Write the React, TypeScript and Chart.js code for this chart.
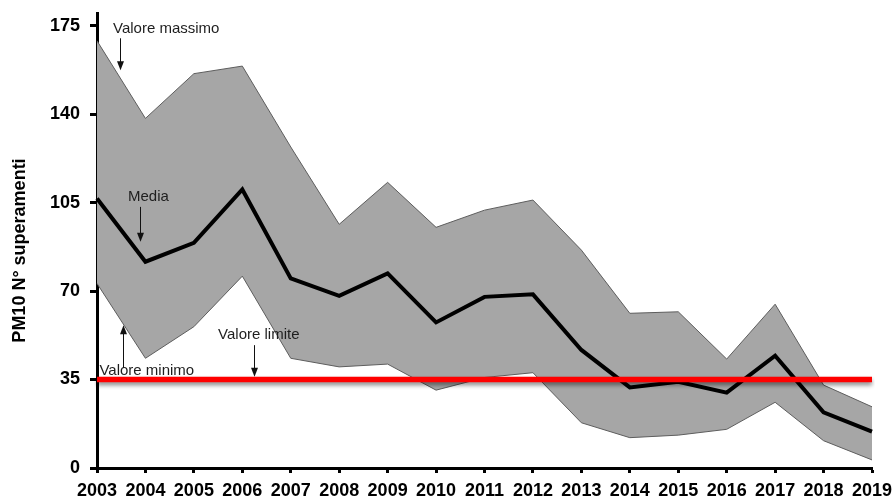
import React, { useEffect, useRef } from "react";
import { Chart, registerables } from "chart.js";

Chart.register(...registerables);

// Annual count of PM10 daily-limit exceedances across monitoring stations
const years = [
  "2003", "2004", "2005", "2006", "2007", "2008", "2009", "2010", "2011",
  "2012", "2013", "2014", "2015", "2016", "2017", "2018", "2019",
];
const maxValues = [169, 138.3, 156, 159, 127, 96.4, 113, 95.2, 102, 106, 86.2, 61.2, 61.8, 43.1, 64.8, 32.8, 24.2];
const meanValues = [106.6, 81.6, 89.1, 110.2, 75, 68.1, 77, 57.6, 67.7, 68.7, 46.7, 31.9, 34.1, 29.8, 44.4, 22, 14.4];
const minValues = [73, 43.4, 55.9, 75.9, 43.4, 40, 41.1, 30.8, 35.8, 37.7, 17.9, 12, 13, 15.3, 26, 10.8, 3.2];
const limitValue = 35;
const yTickValues = [0, 35, 70, 105, 140, 175];

const FONT = '"Liberation Sans", Arial, Helvetica, sans-serif';

// Callouts: label text anchored at (index, value), arrow drawn from y1 to y2 at arrowX
type Note = {
  text: string;
  tx: number;
  ty: number;
  arrowX: number;
  y1: number;
  y2: number;
};
const notes: Note[] = [
  { text: "Valore massimo", tx: 0.33, ty: 173.6, arrowX: 0.475, y1: 170, y2: 157.4 },
  { text: "Media", tx: 0.64, ty: 107.3, arrowX: 0.89, y1: 103.3, y2: 89.5 },
  { text: "Valore minimo", tx: 0.05, ty: 38.3, arrowX: 0.545, y1: 39.6, y2: 56.5 },
  { text: "Valore limite", tx: 2.5, ty: 52.6, arrowX: 3.245, y1: 48.6, y2: 36.1 },
];

const limitShadow = {
  id: "limitShadow",
  beforeDatasetDraw(chart: any, args: any) {
    if (args.index !== 3) return;
    const ctx = chart.ctx;
    ctx.save();
    ctx.shadowColor = "rgba(0,0,0,0.45)";
    ctx.shadowBlur = 4;
    ctx.shadowOffsetY = 3;
  },
  afterDatasetDraw(chart: any, args: any) {
    if (args.index !== 3) return;
    chart.ctx.restore();
  },
};

const callouts = {
  id: "callouts",
  afterDatasetsDraw(chart: any) {
    const { ctx, scales } = chart;
    const xs = scales.x;
    const ys = scales.y;
    ctx.save();
    ctx.font = `15px ${FONT}`;
    ctx.fillStyle = "#1e1e1e";
    ctx.textAlign = "left";
    ctx.textBaseline = "middle";
    for (const n of notes) {
      ctx.fillText(n.text, xs.getPixelForValue(n.tx), ys.getPixelForValue(n.ty));
      const ax = Math.round(xs.getPixelForValue(n.arrowX)) + 0.5;
      const a = ys.getPixelForValue(n.y1);
      const b = ys.getPixelForValue(n.y2);
      const dir = b > a ? 1 : -1;
      ctx.strokeStyle = "#111";
      ctx.lineWidth = 1;
      ctx.beginPath();
      ctx.moveTo(ax, a);
      ctx.lineTo(ax, b - dir * 8);
      ctx.stroke();
      ctx.fillStyle = "#111";
      ctx.beginPath();
      ctx.moveTo(ax, b);
      ctx.lineTo(ax - 3.5, b - dir * 9);
      ctx.lineTo(ax + 3.5, b - dir * 9);
      ctx.closePath();
      ctx.fill();
      ctx.fillStyle = "#1e1e1e";
    }
    ctx.restore();
  },
};

export default function App() {
  const canvasRef = useRef<HTMLCanvasElement | null>(null);

  useEffect(() => {
    const canvas = canvasRef.current;
    if (!canvas) return;
    const tickFont = { family: FONT, size: 18, weight: "bold" as const };

    const chart = new Chart(canvas, {
      type: "line",
      data: {
        labels: years,
        datasets: [
          {
            label: "Valore massimo",
            data: maxValues,
            borderColor: "#5e5e5e",
            borderWidth: 1,
            backgroundColor: "#a6a6a6",
            fill: "+1",
            pointRadius: 0,
            tension: 0,
            order: 3,
          },
          {
            label: "Valore minimo",
            data: minValues,
            borderColor: "#5e5e5e",
            borderWidth: 1,
            fill: false,
            pointRadius: 0,
            tension: 0,
            order: 2,
          },
          {
            label: "Media",
            data: meanValues,
            borderColor: "#000000",
            borderWidth: 4,
            fill: false,
            pointRadius: 0,
            tension: 0,
            order: 1,
          },
          {
            label: "Valore limite",
            data: years.map(() => limitValue),
            borderColor: "#ff0000",
            borderWidth: 5.5,
            fill: false,
            pointRadius: 0,
            tension: 0,
            order: 0,
          },
        ],
      },
      options: {
        responsive: false,
        animation: false,
        devicePixelRatio: 1,
        layout: { padding: { left: 0, right: 21, top: 13, bottom: 0 } },
        plugins: {
          legend: { display: false },
          tooltip: { enabled: false },
        },
        scales: {
          x: {
            type: "category",
            offset: false,
            grid: {
              drawOnChartArea: false,
              drawTicks: true,
              tickLength: 5,
              tickWidth: 3,
              tickColor: "#000",
            },
            border: { display: true, color: "#000", width: 3 },
            ticks: {
              color: "#000",
              font: tickFont,
              padding: 7,
              maxRotation: 0,
              autoSkip: false,
            },
            afterFit(scale: any) {
              scale.height = 29;
              scale.paddingLeft = 0;
              scale.paddingRight = 0;
            },
          },
          y: {
            min: 0,
            max: 180,
            afterBuildTicks(scale: any) {
              scale.ticks = yTickValues.map((v) => ({ value: v }));
            },
            grid: {
              drawOnChartArea: false,
              drawTicks: true,
              tickLength: 7,
              tickWidth: 3,
              tickColor: "#000",
            },
            border: { display: true, color: "#000", width: 3 },
            ticks: {
              color: "#000",
              font: tickFont,
              padding: 10,
            },
            title: {
              display: true,
              text: "PM10 N° superamenti    ",
              color: "#000",
              font: { family: FONT, size: 18, weight: "bold" },
              padding: { top: 9, bottom: 0 },
            },
            afterFit(scale: any) {
              scale.width = 97;
              scale.paddingTop = 0;
              scale.paddingBottom = 0;
            },
          },
        },
      },
      plugins: [limitShadow, callouts],
    });

    return () => chart.destroy();
  }, []);

  return (
    <div style={{ position: "fixed", left: 0, top: 0, width: 893, height: 497, background: "#fff" }}>
      <canvas ref={canvasRef} width={893} height={497} style={{ display: "block" }} />
    </div>
  );
}
